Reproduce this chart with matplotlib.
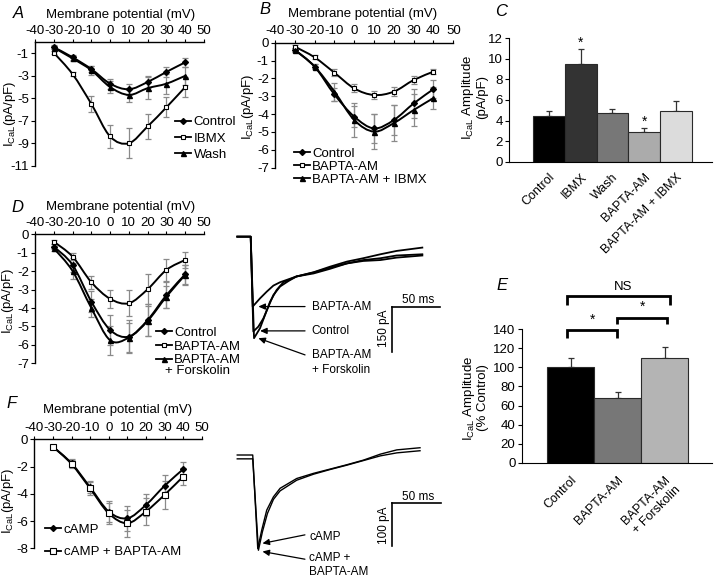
import numpy as np
import matplotlib
matplotlib.use("Agg")
import matplotlib.pyplot as plt
from matplotlib.path import Path
from matplotlib.patches import PathPatch
from matplotlib.lines import Line2D

plt.rcParams['font.family'] = ['Liberation Sans', 'DejaVu Sans']
plt.rcParams['mathtext.fontset'] = 'custom'
plt.rcParams['mathtext.rm'] = 'Liberation Sans'
plt.rcParams['mathtext.it'] = 'Liberation Sans:italic'

# ---------------- data ----------------
volt = [-30, -20, -10, 0, 10, 20, 30, 40]
volt_ticks = [-40, -30, -20, -10, 0, 10, 20, 30, 40, 50]

# Panel A
a_control = [-0.45, -1.35, -2.4, -3.7, -4.2, -3.55, -2.65, -1.8]
a_control_err = [0.15, 0.2, 0.3, 0.45, 0.5, 0.5, 0.45, 0.4]
a_ibmx = [-0.95, -2.85, -5.5, -8.4, -9.0, -7.5, -5.8, -4.0]
a_ibmx_err = [0.15, 0.2, 0.7, 1.05, 1.35, 1.1, 0.9, 0.85]
a_wash = [-0.5, -1.45, -2.5, -4.0, -4.7, -4.1, -3.7, -3.0]
a_wash_err = [0.15, 0.2, 0.4, 0.5, 0.6, 0.95, 0.9, 0.8]

# Panel B
b_control = [-0.4, -1.34, -2.9, -4.14, -4.8, -4.33, -3.4, -2.6]
b_control_err = [0.1, 0.15, 0.35, 0.6, 0.8, 0.85, 0.8, 0.5]
b_bapta = [-0.22, -0.82, -1.68, -2.56, -2.93, -2.74, -2.09, -1.62]
b_bapta_err = [0.1, 0.12, 0.18, 0.22, 0.25, 0.25, 0.2, 0.15]
b_bapta_ibmx = [-0.4, -1.34, -2.74, -4.33, -4.98, -4.5, -3.77, -3.1]
b_bapta_ibmx_err = [0.1, 0.15, 0.5, 0.95, 1.0, 1.0, 0.9, 0.6]

# Panel C
c_labels = ['Control', 'IBMX', 'Wash', 'BAPTA-AM', 'BAPTA-AM + IBMX']
c_values = [4.4, 9.5, 4.7, 2.9, 4.9]
c_err = [0.5, 1.45, 0.45, 0.35, 1.05]
c_colors = ['#000000', '#333333', '#777777', '#ababab', '#dcdcdc']

# Panel D
d_control = [-0.67, -1.66, -3.65, -5.19, -5.55, -4.65, -3.3, -2.17]
d_control_err = [0.15, 0.4, 0.55, 0.8, 0.9, 0.85, 0.7, 0.5]
d_bapta = [-0.4, -1.21, -2.6, -3.5, -3.74, -2.98, -1.93, -1.39]
d_bapta_err = [0.1, 0.2, 0.35, 0.5, 0.7, 0.8, 0.6, 0.45]
d_forsk = [-0.76, -1.99, -4.0, -5.75, -5.6, -4.7, -3.38, -2.2]
d_forsk_err = [0.15, 0.45, 0.5, 0.8, 0.8, 0.8, 0.6, 0.55]

# Panel D traces (time ms, current pA)
td_bapta_t = [-14, -7, 0, 2.1, 9.8, 16.8, 23.8, 30.8, 48, 66, 83, 101, 118, 136, 153, 180]
td_bapta_i = [0, 0, 0, -230, -203, -181, -161, -150, -131, -117, -99, -82, -71, -58, -47, -36]
td_ctrl_t = [-14, -7, 0, 2.8, 8, 13.3, 18.6, 23.8, 30.8, 39.6, 48, 66, 83, 101, 118, 136, 153, 180]
td_ctrl_i = [0, 0, 0, -312, -296, -269, -230, -192, -164, -146, -131, -121, -106, -88, -77, -71, -62, -58]
td_forsk_t = [-14, -7, 0, 3.5, 9.8, 15, 20.3, 27.3, 34.3, 48, 66, 83, 101, 118, 136, 153, 180]
td_forsk_i = [0, 0, 0, -334, -301, -258, -214, -175, -150, -131, -118, -102, -88, -80, -77, -69, -62]

# Panel E
e_labels = ['Control', 'BAPTA-AM', 'BAPTA-AM\n+ Forskolin']
e_values = [100, 68, 110]
e_err = [10, 6, 11]
e_colors = ['#000000', '#777777', '#b4b4b4']

# Panel F
f_camp = [-0.54, -1.76, -3.52, -5.3, -5.8, -4.82, -3.42, -2.2]
f_camp_err = [0.1, 0.3, 0.45, 0.75, 0.9, 0.8, 0.8, 0.5]
f_camp_bapta = [-0.54, -1.81, -3.6, -5.43, -6.16, -5.3, -4.08, -2.74]
f_camp_bapta_err = [0.1, 0.3, 0.5, 0.75, 1.0, 1.0, 1.0, 0.65]

# Panel F traces
tf_camp_t = [-16, -8, 0, 5.2, 9.3, 14.5, 21.4, 28.3, 45.5, 62.8, 80, 97, 114.5, 132, 149, 173]
tf_camp_i = [0, 0, 0, -219, -176, -129, -98, -78, -55, -43, -33, -23, -12, 2, 12, 17]
tf_cb_t = [-16, -8, 0, 5.9, 10, 15.2, 21.4, 28.3, 45.5, 62.8, 80, 97, 114.5, 132, 149, 173]
tf_cb_i = [-9, -9, -9, -223, -180, -137, -104, -84, -59, -45, -34, -24, -13, -2, 5, 10]

# ---------------- helpers ----------------
W, H = 720, 580
fig = plt.figure(figsize=(W / 100, H / 100), dpi=100)


def axrect(l, t, r, b):
    return fig.add_axes([l / W, 1 - b / H, (r - l) / W, (b - t) / H])


def ftext(px, py, s, **kw):
    fig.text(px / W, 1 - py / H, s, **kw)


def smooth_path(x, y):
    P = np.column_stack([x, y]).astype(float)
    n = len(P)
    verts = [P[0]]
    codes = [Path.MOVETO]
    for i in range(n - 1):
        p0 = P[i - 1] if i > 0 else P[i]
        p1 = P[i]
        p2 = P[i + 1]
        p3 = P[i + 2] if i + 2 < n else P[i + 1]
        verts += [p1 + (p2 - p0) / 6.0, p2 - (p3 - p1) / 6.0, p2]
        codes += [Path.CURVE4] * 3
    return Path(verts, codes)


MK = {
    'diamond': dict(marker='D', ms=3.0, mfc='k', mec='k'),
    'square': dict(marker='s', ms=3.4, mfc='white', mec='k', mew=0.8),
    'tri': dict(marker='^', ms=3.6, mfc='k', mec='k'),
    'square_big': dict(marker='s', ms=5.0, mfc='white', mec='k', mew=0.8),
}


def iv_axes(rect, ylim, yticks, title_xy, ylabel_xy):
    ax = axrect(*rect)
    ax.set_xlim(-40, 50)
    ax.set_ylim(*ylim)
    ax.spines['right'].set_visible(False)
    ax.spines['bottom'].set_visible(False)
    ax.spines['top'].set_linewidth(1.0)
    ax.spines['left'].set_linewidth(1.0)
    ax.xaxis.tick_top()
    ax.set_xticks(volt_ticks)
    ax.set_xticklabels([('%d' % v) for v in volt_ticks])
    ax.set_yticks(yticks)
    ax.set_yticklabels([('%d' % v) for v in yticks])
    ax.tick_params(axis='x', direction='out', length=2.5, width=0.8, pad=1.5, labelsize=9.5)
    ax.tick_params(axis='y', direction='out', length=3, width=0.8, pad=1.5, labelsize=9.5)
    ax.patch.set_alpha(0)
    ftext(title_xy[0], title_xy[1], 'Membrane potential (mV)', ha='center', va='center', fontsize=9.5)
    ftext(ylabel_xy[0], ylabel_xy[1], r'I$_{\mathrm{CaL}}$(pA/pF)', ha='center', va='center',
          rotation=90, fontsize=9.5)
    return ax


def series(ax, y, err, mk):
    ax.add_patch(PathPatch(smooth_path(volt, y), fill=False, edgecolor='k', lw=1.4, zorder=3,
                           clip_on=False))
    ax.errorbar(volt, y, yerr=err, fmt='none', ecolor='#8a8a8a', elinewidth=0.9, capsize=2,
                capthick=0.9, zorder=2, clip_on=False)
    ax.plot(volt, y, linestyle='none', zorder=4, clip_on=False, **MK[mk])


def handle(mk):
    return Line2D([0], [0], color='k', lw=1.3, **MK[mk])


# ---------------- Panel A ----------------
axA = iv_axes((35, 42.1, 204, 165.7), (-11, 0), [-1, -3, -5, -7, -9, -11], (121, 15), (10, 114))
series(axA, a_control, a_control_err, 'diamond')
series(axA, a_ibmx, a_ibmx_err, 'square')
series(axA, a_wash, a_wash_err, 'tri')
axA.legend([handle('diamond'), handle('square'), handle('tri')], ['Control', 'IBMX', 'Wash'],
           loc='upper left', bbox_to_anchor=(0.83, 0.40), frameon=False, fontsize=9.5,
           handlelength=1.2, handletextpad=0.2, labelspacing=0.3, borderpad=0, borderaxespad=0)
ftext(18, 13, 'A', fontsize=12, style='italic', ha='center', va='center')

# ---------------- Panel B ----------------
axB = iv_axes((275, 42.7, 453.3, 167.7), (-7, 0), [0, -1, -2, -3, -4, -5, -6, -7], (363, 14),
              (248, 107))
series(axB, b_control, b_control_err, 'diamond')
series(axB, b_bapta, b_bapta_err, 'square')
series(axB, b_bapta_ibmx, b_bapta_ibmx_err, 'tri')
axB.legend([handle('diamond'), handle('square'), handle('tri')],
           ['Control', 'BAPTA-AM', 'BAPTA-AM + IBMX'],
           loc='upper left', bbox_to_anchor=(0.105, 0.16), frameon=False, fontsize=9.5,
           handlelength=1.2, handletextpad=0.2, labelspacing=0.05, borderpad=0, borderaxespad=0)
ftext(265, 9, 'B', fontsize=12, style='italic', ha='center', va='center')

# ---------------- Panel C ----------------
axC = axrect(509, 38.3, 712, 161.7)
xc = np.arange(len(c_values))
axC.bar(xc, c_values, width=1.0, color=c_colors, edgecolor='#2a2a2a', linewidth=0.8, zorder=2)
axC.errorbar(xc, c_values, yerr=[[0] * len(c_err), c_err], fmt='none', ecolor='#333333',
             elinewidth=0.9, capsize=2, capthick=0.9, zorder=1)
axC.set_xlim(-1.25, 5.13)
axC.set_ylim(0, 12)
axC.set_yticks(range(0, 13, 2))
axC.set_xticks(xc)
axC.set_xticklabels(c_labels, rotation=45, ha='right', rotation_mode='anchor')
axC.tick_params(axis='x', length=0, pad=7, labelsize=9)
axC.tick_params(axis='y', direction='out', length=3, width=0.8, pad=1.5, labelsize=9.5)
for s in ['top', 'right']:
    axC.spines[s].set_visible(False)
axC.patch.set_alpha(0)
for i, lab in [(1, '*'), (3, '*')]:
    axC.text(i, c_values[i] + c_err[i] + 0.6, lab, ha='center', va='center', fontsize=10,
             clip_on=False)
ftext(474, 97, r'I$_{\mathrm{CaL}}$ Amplitude' + '\n(pA/pF)', rotation=90, ha='center',
      va='center', fontsize=9.5, linespacing=1.0)
ftext(501, 12, 'C', fontsize=12, style='italic', ha='center', va='center')

# ---------------- Panel D ----------------
axD = iv_axes((35, 234.3, 204, 363.3), (-7, 0), [0, -1, -2, -3, -4, -5, -6, -7], (121, 207),
              (8, 301))
series(axD, d_bapta, d_bapta_err, 'square')
series(axD, d_control, d_control_err, 'diamond')
series(axD, d_forsk, d_forsk_err, 'tri')
axD.legend([handle('diamond'), handle('square'), handle('tri')],
           ['Control', 'BAPTA-AM', 'BAPTA-AM'],
           loc='upper left', bbox_to_anchor=(0.715, 0.285), frameon=False, fontsize=9.5,
           handlelength=1.2, handletextpad=0.2, labelspacing=0.12, borderpad=0, borderaxespad=0)
axD.text(0.77, -0.06, '+ Forskolin', transform=axD.transAxes, ha='left', va='center',
         fontsize=9.5, clip_on=False)
ftext(17, 207, 'D', fontsize=12, style='italic', ha='center', va='center')

# D traces
axTD = axrect(230, 195, 470, 385)
axTD.set_xlim(-21.7, 230)
axTD.set_ylim(-488, 137)
axTD.axis('off')
for t, i in [(td_ctrl_t, td_ctrl_i), (td_forsk_t, td_forsk_i), (td_bapta_t, td_bapta_i)]:
    axTD.plot(t, i, color='k', lw=1.3, solid_joinstyle='round')
# scale bar 50 ms / 150 pA
axTD.plot([148.6, 198.6], [-230, -230], color='k', lw=1.2)
axTD.plot([148.6, 148.6], [-230, -380], color='k', lw=1.2)
axTD.text(176, -208, '50 ms', ha='center', va='center', fontsize=8.5)
axTD.text(139.8, -301, '150 pA', ha='center', va='center', rotation=90, fontsize=8.5)
arw = dict(arrowstyle='-|>,head_length=0.4,head_width=0.18', color='k', lw=0.9,
           shrinkA=0, shrinkB=0)
axTD.annotate('', xy=(8, -230), xytext=(57, -230), arrowprops=arw)
axTD.annotate('', xy=(9.8, -310), xytext=(57, -310), arrowprops=arw)
axTD.annotate('', xy=(8, -334), xytext=(57, -389), arrowprops=arw)
axTD.text(64, -233, 'BAPTA-AM', ha='left', va='center', fontsize=8.5)
axTD.text(64, -310, 'Control', ha='left', va='center', fontsize=8.5)
axTD.text(64, -414, 'BAPTA-AM\n+ Forskolin', ha='left', va='center', fontsize=8.5,
          linespacing=1.3)

# ---------------- Panel E ----------------
axE = axrect(521.7, 329.3, 711.7, 462.7)
xe = np.arange(len(e_values))
axE.bar(xe, e_values, width=1.0, color=e_colors, edgecolor='#2a2a2a', linewidth=0.8, zorder=2)
axE.errorbar(xe, e_values, yerr=[[0] * len(e_err), e_err], fmt='none', ecolor='#333333',
             elinewidth=0.9, capsize=2, capthick=0.9, zorder=1)
axE.set_xlim(-1.04, 3.0)
axE.set_ylim(0, 140)
axE.set_yticks(range(0, 141, 20))
axE.set_xticks(xe)
axE.set_xticklabels(e_labels, rotation=45, ha='right', rotation_mode='anchor')
axE.tick_params(axis='x', length=0, pad=8, labelsize=9)
axE.tick_params(axis='y', direction='out', length=3, width=0.8, pad=1.5, labelsize=9.5)
for s in ['top', 'right']:
    axE.spines[s].set_visible(False)
axE.patch.set_alpha(0)
# significance brackets
bk = dict(color='k', lw=2.0, clip_on=False, solid_capstyle='butt', solid_joinstyle='miter')
axE.plot([-0.08, -0.08, 0.99, 0.99], [131, 139, 139, 131], **bk)
axE.plot([0.99, 0.99, 2.05, 2.05], [145.5, 152, 152, 145.5], **bk)
axE.plot([-0.08, -0.08, 2.11, 2.11], [166, 175, 175, 166], **bk)
axE.text(0.46, 150, '*', ha='center', va='center', fontsize=10, clip_on=False)
axE.text(1.52, 164, '*', ha='center', va='center', fontsize=10, clip_on=False)
axE.text(1.12, 184, 'NS', ha='center', va='center', fontsize=9.5, clip_on=False)
ftext(475, 398, r'I$_{\mathrm{CaL}}$ Amplitude' + '\n(% Control)', rotation=90, ha='center',
      va='center', fontsize=9.5, linespacing=1.0)
ftext(502, 285, 'E', fontsize=12, style='italic', ha='center', va='center')

# ---------------- Panel F ----------------
axF = iv_axes((34.3, 439.3, 201.7, 548.3), (-8, 0), [0, -2, -4, -6, -8], (118, 410), (8, 501))
series(axF, f_camp, f_camp_err, 'diamond')
series(axF, f_camp_bapta, f_camp_bapta_err, 'square_big')
axF.legend([handle('diamond'), handle('square_big')], ['cAMP', 'cAMP + BAPTA-AM'],
           loc='upper left', bbox_to_anchor=(0.065, 0.225), frameon=False, fontsize=9.5,
           handlelength=1.2, handletextpad=0.2, labelspacing=0.75, borderpad=0, borderaxespad=0)
ftext(12, 404, 'F', fontsize=12, style='italic', ha='center', va='center')

# F traces
axTF = axrect(230, 400, 470, 580)
axTF.set_xlim(-23.5, 224.7)
axTF.set_ylim(-292.7, 128.8)
axTF.axis('off')
for t, i in [(tf_camp_t, tf_camp_i), (tf_cb_t, tf_cb_i)]:
    axTF.plot(t, i, color='k', lw=1.0, solid_joinstyle='round')
axTF.plot([144.4, 194.4], [-113, -113], color='k', lw=1.2)
axTF.plot([144.4, 144.4], [-113, -213], color='k', lw=1.2)
axTF.text(171.3, -97.7, '50 ms', ha='center', va='center', fontsize=8.5)
axTF.text(135.8, -164, '100 pA', ha='center', va='center', rotation=90, fontsize=8.5)
axTF.annotate('', xy=(10, -207), xytext=(54, -187), arrowprops=arw)
axTF.annotate('', xy=(10, -226), xytext=(54, -244), arrowprops=arw)
axTF.text(58.5, -191, 'cAMP', ha='left', va='center', fontsize=8.5)
axTF.text(58.5, -258, 'cAMP +\nBAPTA-AM', ha='left', va='center', fontsize=8.5, linespacing=1.2)

fig.savefig('out.png', dpi=100)
